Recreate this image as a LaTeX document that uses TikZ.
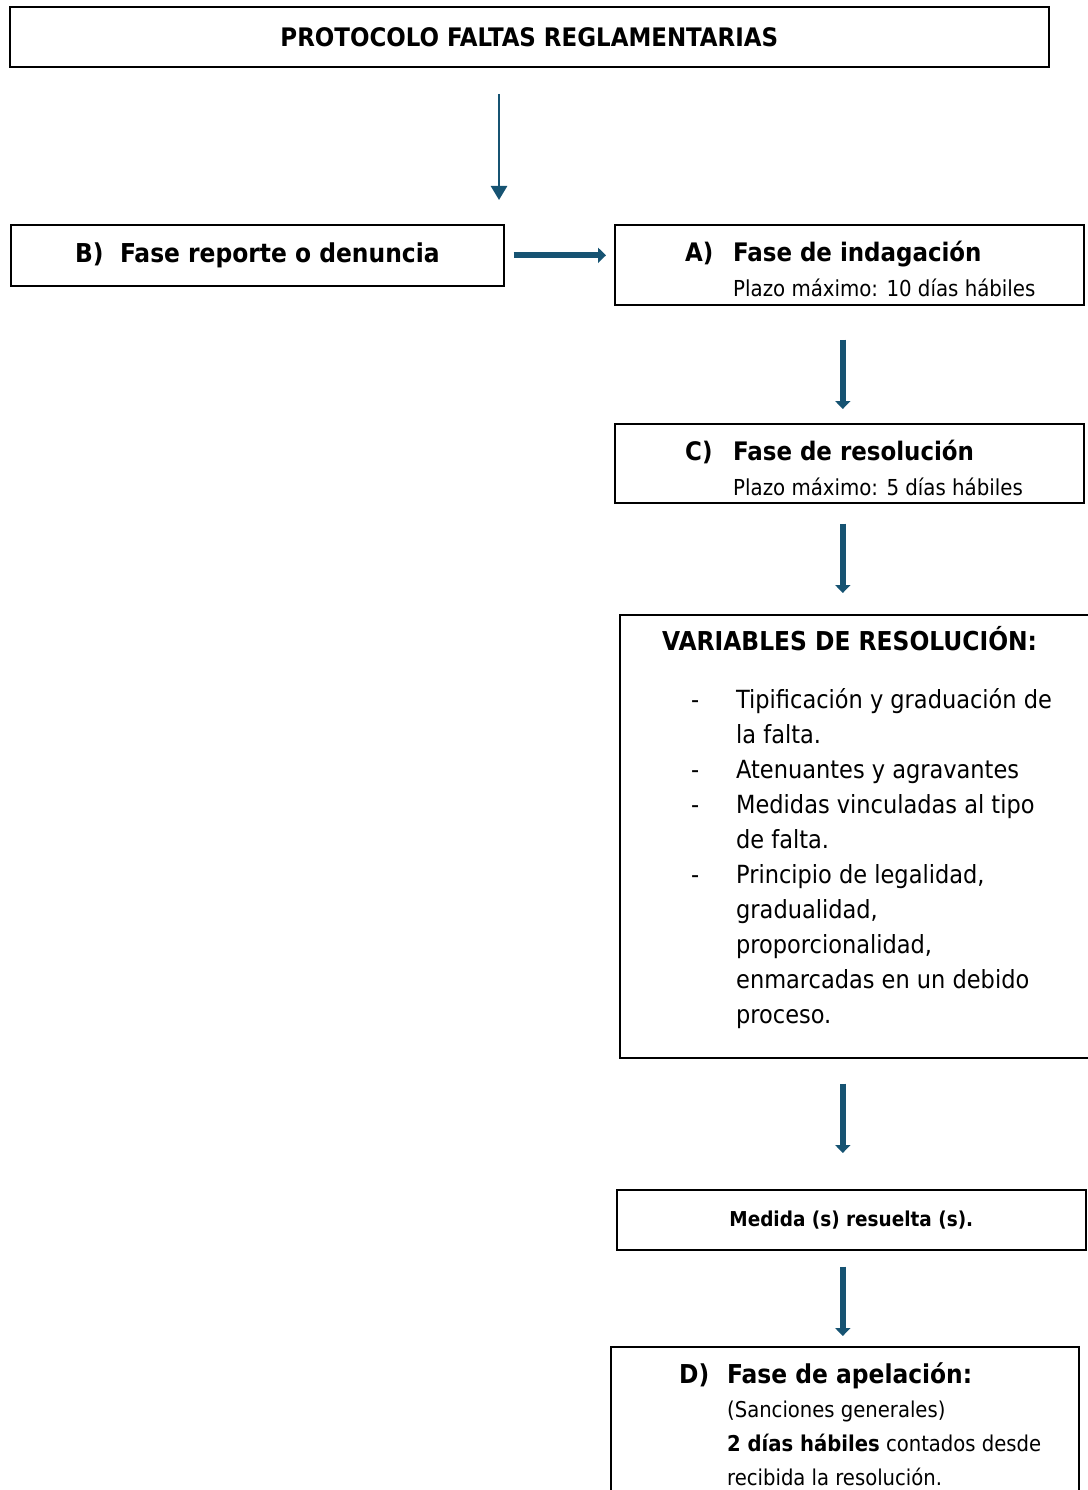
\documentclass[tikz,border=0pt]{standalone}
\usepackage{fontspec}
\setmainfont{DejaVu Sans Condensed}
\usepackage{xcolor}
\usetikzlibrary{shapes,arrows.meta,positioning}
\definecolor{flecha}{RGB}{22,83,114}

\begin{document}
\begin{tikzpicture}[x=1pt, y=-1pt, >=Stealth]
    % Define styles
    \tikzstyle{caja} = [rectangle, draw, line width=1.6pt, anchor=north west, inner sep=0pt]
    \tikzstyle{texto} = [anchor=base west, inner sep=0pt]
    \tikzstyle{gruesa} = [draw=flecha, line width=6pt, -{Triangle[width=15pt,length=8pt]}]
    \tikzstyle{fina} = [draw=flecha, line width=2.5pt, -{Triangle[width=16pt,length=14pt]}]
    \useasboundingbox (0,0) rectangle (1087,1490);

    % Boxes, top to bottom
    \node [caja, minimum width=1039pt, minimum height=60pt, font=\fontsize{25.5}{30}\selectfont\bfseries] (titulo) at (9,6) {PROTOCOLO FALTAS REGLAMENTARIAS};
    \node [caja, minimum width=493pt, minimum height=61pt, font=\fontsize{26}{30}\selectfont\bfseries] (faseB) at (10,224) {\makebox[45pt][l]{B)}Fase reporte o denuncia};
    \node [caja, minimum width=469pt, minimum height=80pt] (faseA) at (614,224) {};
    \node [caja, minimum width=469pt, minimum height=79pt] (faseC) at (614,423) {};
    \node [caja, minimum width=500pt, minimum height=443pt] (variables) at (619,614) {};
    \node [caja, minimum width=469pt, minimum height=60pt, font=\fontsize{20.5}{24}\selectfont\bfseries] (medida) at (616,1189) {Medida (s) resuelta (s).};
    \node [caja, minimum width=468pt, minimum height=200pt] (faseD) at (610,1346) {};

    % Texts inside the boxes
    \node [texto, font=\fontsize{25.5}{30}\selectfont\bfseries] (tA) at (685,261) {\makebox[48pt][l]{A)}Fase de indagación};
    \node [texto, font=\fontsize{22}{26}\selectfont] (pA) at (733,296) {Plazo máximo: 10 días hábiles};
    \node [texto, font=\fontsize{25.5}{30}\selectfont\bfseries] (tC) at (685,460) {\makebox[48pt][l]{C)}Fase de resolución};
    \node [texto, font=\fontsize{22}{26}\selectfont] (pC) at (733,495) {Plazo máximo: 5 días hábiles};
    \node [texto, font=\fontsize{26}{30}\selectfont\bfseries] (tV) at (662,650) {VARIABLES DE RESOLUCIÓN:};
    \node [texto, font=\fontsize{25}{35}\selectfont] (lista) at (691,708) {%
        \begin{tabular}[t]{@{}p{45pt}@{}l@{}}
            - & Tipificación y graduación de\\
              & la falta.\\
            - & Atenuantes y agravantes\\
            - & Medidas vinculadas al tipo\\
              & de falta.\\
            - & Principio de legalidad,\\
              & gradualidad,\\
              & proporcionalidad,\\
              & enmarcadas en un debido\\
              & proceso.
        \end{tabular}};
    \node [texto, font=\fontsize{26}{30}\selectfont\bfseries] (tD) at (679,1383) {\makebox[48pt][l]{D)}Fase de apelación:};
    \node [texto, font=\fontsize{21.8}{34}\selectfont] (pD) at (727,1417) {%
        \begin{tabular}[t]{@{}l@{}}
            (Sanciones generales)\\
            \textbf{2 días hábiles} contados desde\\
            recibida la resolución.
        \end{tabular}};

    % Arrows
    \coordinate (ini) at (499,94);
    \coordinate (fin) at (499,200);
    \draw [fina] (ini) -- (fin);
    \draw [gruesa, shorten <=9pt, shorten >=8pt] (faseB.east) -- (faseB.east -| faseA.west);
    \draw [gruesa, shorten <=34pt, shorten >=14pt] ([xshift=-6.5pt]faseA.south) -- ([xshift=-6.5pt]faseC.north);
    \draw [gruesa, shorten <=20pt, shorten >=21pt] ([xshift=-6.5pt]faseC.south) -- ([xshift=-6.5pt]faseC.south |- variables.north);
    \draw [gruesa, shorten <=25pt, shorten >=36pt] ([xshift=-8.5pt]medida.north |- variables.south) -- ([xshift=-8.5pt]medida.north);
    \draw [gruesa, shorten <=16pt, shorten >=10pt] ([xshift=-8.5pt]medida.south) -- ([xshift=-8.5pt]medida.south |- faseD.north);
\end{tikzpicture}
\end{document}
